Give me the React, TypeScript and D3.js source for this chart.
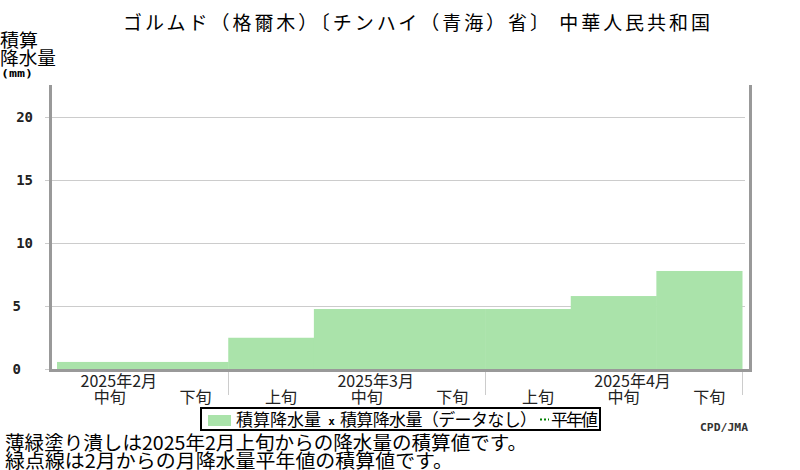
import React from "react";
import * as d3 from "d3";

const title = "ゴルムド（格爾木）〔チンハイ（青海）省〕 中華人民共和国";
const dekadLabels = ["中旬", "下旬", "上旬", "中旬", "下旬", "上旬", "中旬", "下旬"];
const monthLabels = ["2025年2月", "2025年3月", "2025年4月"];
const monthLabelDekadIndex = [0, 3, 6];
const monthBoundaryIndex = [2, 5, 8];
const accumPrecip = [0.56, 0.56, 2.48, 4.76, 4.76, 4.76, 5.79, 7.78];
const yTicks = [0, 5, 10, 15, 20];
const note1 = "薄緑塗り潰しは2025年2月上旬からの降水量の積算値です。";
const note2 = "緑点線は2月からの月降水量平年値の積算値です。";

const W = 800;
const H = 470;
const JP = "'Noto Sans CJK JP', sans-serif";
const MONO = "'DejaVu Sans Mono', monospace";
const AXIS = "#999";
const GRID = "#ccc";
const FILL = "#aae3aa";

export default function App() {
  const x = d3.scaleLinear().domain([0, 8]).range([57, 742]);
  const y = d3.scaleLinear().domain([0, 20]).range([369, 117]);
  const dw = x(1) - x(0);

  return (
    <svg
      width={W}
      height={H}
      style={{ position: "absolute", left: 0, top: 0, background: "#fff" }}
      fontFamily={JP}
    >
      <rect x={0} y={0} width={W} height={H} fill="#fff" />
      {/* title */}
      <text x={123} y={30} fontSize={19} textLength={587} lengthAdjust="spacing">
        {title}
      </text>
      {/* y axis title */}
      <text x={0} y={47} fontSize={18} textLength={38} lengthAdjust="spacingAndGlyphs">積算</text>
      <text x={0} y={65} fontSize={18} textLength={56} lengthAdjust="spacingAndGlyphs">降水量</text>
      <text x={1} y={77} fontSize={10} fontFamily={MONO} fontWeight="bold" textLength={32} lengthAdjust="spacingAndGlyphs">(mm)</text>

      {/* grid lines */}
      {yTicks.map((t) => (
        <line key={"g" + t} x1={45} x2={745} y1={Math.round(y(t)) + 0.5} y2={Math.round(y(t)) + 0.5} stroke={GRID} strokeWidth={1} />
      ))}
      {/* y tick labels */}
      {yTicks.map((t) => (
        <text
          key={"yl" + t}
          x={String(t).length > 1 ? 33 : 21}
          y={y(t) + 5}
          fontSize={14}
          fontFamily={MONO}
          fontWeight="bold"
          textAnchor="end"
          fill="#222"
        >
          {t}
        </text>
      ))}

      {/* bars */}
      {accumPrecip.map((v, i) => (
        <rect
          key={"b" + i}
          x={x(i)}
          y={y(v)}
          width={dw + 0.5}
          height={y(0) - y(v)}
          fill={FILL}
        />
      ))}

      {/* month boundary ticks */}
      {monthBoundaryIndex.map((i) => (
        <line key={"mb" + i} x1={Math.round(x(i)) + 0.5} x2={Math.round(x(i)) + 0.5} y1={372} y2={395} stroke={GRID} strokeWidth={1} />
      ))}

      {/* axes frame */}
      <rect x={49} y={85} width={3} height={287} fill={AXIS} />
      <rect x={749} y={85} width={3} height={287} fill={AXIS} />
      <rect x={49} y={369} width={703} height={3} fill={AXIS} />

      {/* month labels */}
      {monthLabels.map((m, k) => (
        <text
          key={"m" + k}
          x={x(monthLabelDekadIndex[k] + 0.5) + 19}
          y={387}
          fontSize={16}
          textAnchor="middle"
          fill="#222"
        >
          {m}
        </text>
      ))}
      {/* dekad labels */}
      {dekadLabels.map((d, i) => (
        <text
          key={"d" + i}
          x={x(i + 0.5) + 10}
          y={403}
          fontSize={16}
          textAnchor="middle"
          fill="#222"
        >
          {d}
        </text>
      ))}

      {/* legend */}
      <rect x={201} y={408} width={399} height={22} fill="#fff" stroke="#000" strokeWidth={2} />
      <rect x={208} y={415} width={23} height={11} fill={FILL} />
      <text x={236} y={426} fontSize={17} textLength={85} lengthAdjust="spacing">積算降水量</text>
      <text x={331.5} y={425} fontSize={11} fontFamily={MONO} fontWeight="bold" textAnchor="middle">x</text>
      <text x={340} y={426} fontSize={17} textLength={197} lengthAdjust="spacing">積算降水量（データなし）</text>
      <line x1={540} x2={549} y1={419.5} y2={419.5} stroke="#008000" strokeWidth={2} strokeDasharray="2,2" />
      <text x={551} y={426} fontSize={17} textLength={47} lengthAdjust="spacing">平年値</text>

      {/* credit */}
      <text x={700} y={431} fontSize={11} fontFamily={MONO} fontWeight="bold" textLength={48} lengthAdjust="spacingAndGlyphs" fill="#333">
        CPD/JMA
      </text>

      {/* notes */}
      <text x={5} y={450} fontSize={19} textLength={522} lengthAdjust="spacingAndGlyphs">{note1}</text>
      <text x={5} y={468} fontSize={19} textLength={448} lengthAdjust="spacingAndGlyphs">{note2}</text>
    </svg>
  );
}
